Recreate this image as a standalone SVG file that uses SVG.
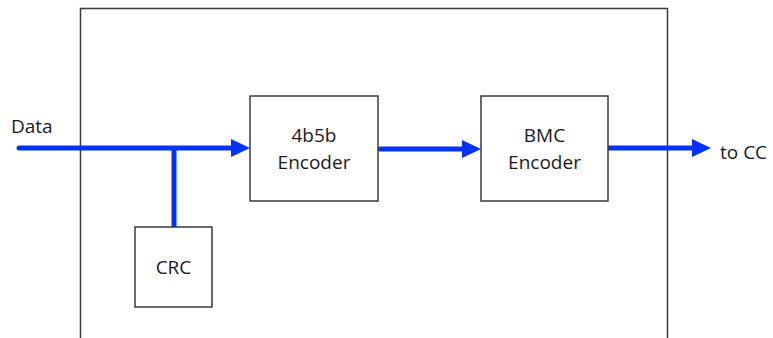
<svg xmlns="http://www.w3.org/2000/svg" width="773" height="338" viewBox="0 0 773 338">
<defs>
<style>
.box{fill:#fff;stroke:#3a3a3a;stroke-width:1.5}
.outer{fill:none;stroke:#3a3a3a;stroke-width:1.5}
.lbl{font-family:"Open Sans","Liberation Sans",sans-serif;font-size:19px;fill:#1a1a1a}
.c{text-anchor:middle}
.wire{fill:none;stroke:#0033ff;stroke-width:5;stroke-linecap:round}
.head{fill:#0033ff}
</style>
</defs>
<rect width="773" height="338" fill="#fff"/>
<g id="system">
<path class="outer" d="M80.5,340 V8.5 H667.5 V340"/>
</g>
<g id="connectors">
<line class="wire" x1="19" y1="148" x2="234" y2="148"/>
<polygon class="head" points="231,139 250,148 231,157"/>
<line class="wire" x1="174" y1="148" x2="174" y2="227" style="stroke-linecap:butt"/>
<line class="wire" x1="380" y1="149" x2="465" y2="149"/>
<polygon class="head" points="462,140 481,149 462,158"/>
<line class="wire" x1="608" y1="148" x2="695" y2="148"/>
<polygon class="head" points="692,139 711,148 692,157"/>
</g>
<g id="data-label"><text class="lbl" x="11" y="133">Data</text></g>
<g id="tocc-label"><text class="lbl" x="720" y="159">to CC</text></g>
<g id="enc4b5b">
<rect class="box" x="250" y="96" width="128" height="105"/>
<text class="lbl c" x="314" y="142">4b5b</text>
<text class="lbl c" x="314" y="169">Encoder</text>
</g>
<g id="bmc">
<rect class="box" x="481" y="96" width="127" height="105"/>
<text class="lbl c" x="544.5" y="142">BMC</text>
<text class="lbl c" x="544.5" y="169">Encoder</text>
</g>
<g id="crc">
<rect class="box" x="135" y="227" width="77" height="80"/>
<text class="lbl c" x="173.5" y="274">CRC</text>
</g>
</svg>
